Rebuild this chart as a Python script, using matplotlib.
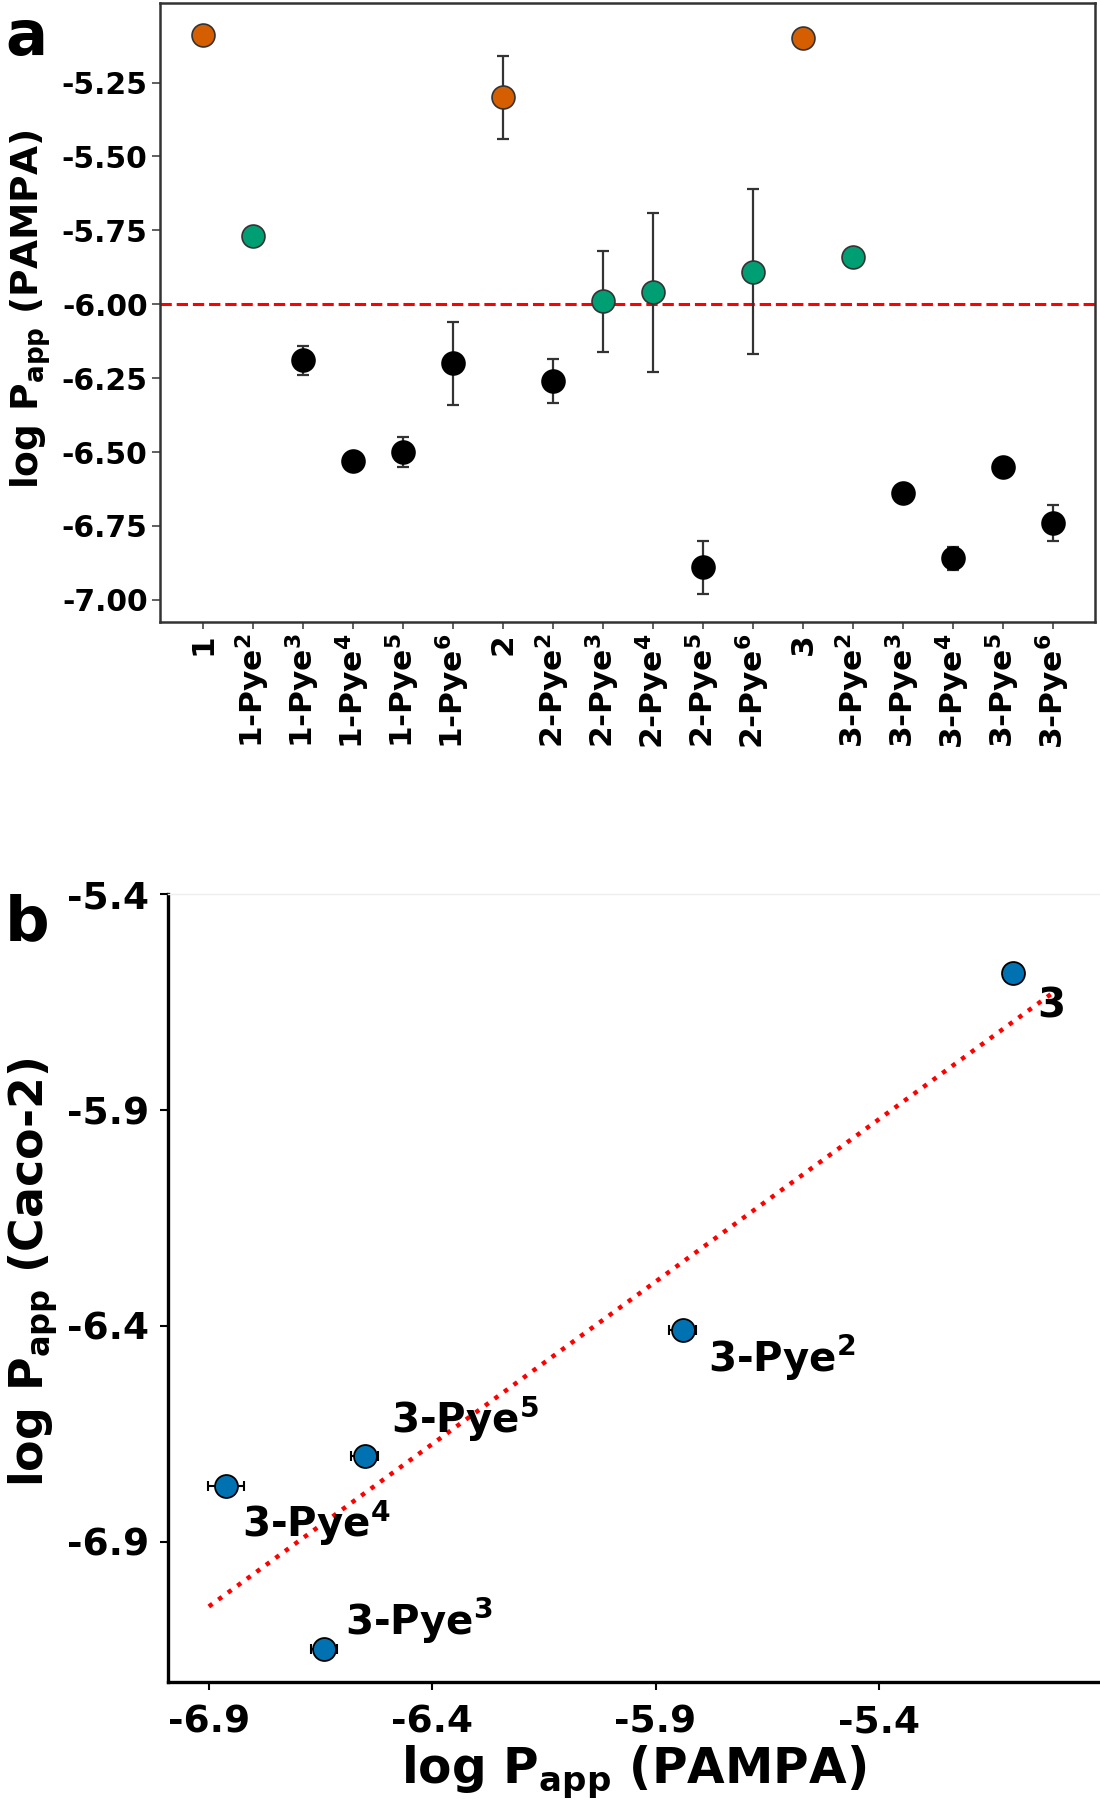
import numpy as np
import matplotlib
matplotlib.use("Agg")
import matplotlib.pyplot as plt
from matplotlib.ticker import FormatStrFormatter

# ---------------- data ----------------
compounds = ["1", "1-Pye2", "1-Pye3", "1-Pye4", "1-Pye5", "1-Pye6",
             "2", "2-Pye2", "2-Pye3", "2-Pye4", "2-Pye5", "2-Pye6",
             "3", "3-Pye2", "3-Pye3", "3-Pye4", "3-Pye5", "3-Pye6"]
pampa_mean = [-5.09, -5.77, -6.19, -6.53, -6.50, -6.20,
              -5.30, -6.26, -5.99, -5.96, -6.89, -5.89,
              -5.10, -5.84, -6.64, -6.86, -6.55, -6.74]
pampa_err = [0.0, 0.0, 0.05, 0.0, 0.05, 0.14,
             0.14, 0.075, 0.17, 0.27, 0.09, 0.28,
             0.0, 0.0, 0.0, 0.04, 0.0, 0.06]
groups = ["parent", "permeable", "low", "low", "low", "low",
          "parent", "low", "permeable", "permeable", "low", "permeable",
          "parent", "permeable", "low", "low", "low", "low"]
threshold = -6.0

caco_names = ["3", "3-Pye2", "3-Pye3", "3-Pye4", "3-Pye5"]
caco_pampa = [-5.10, -5.839, -6.642, -6.862, -6.551]
caco_pampa_err = [0.0, 0.03, 0.03, 0.04, 0.03]
caco_value = [-5.583, -6.409, -7.149, -6.771, -6.701]
fit_range = [-6.9, -5.0]

yticks_a = [-7.00, -6.75, -6.50, -6.25, -6.00, -5.75, -5.50, -5.25]
ticks_b = [-6.9, -6.4, -5.9, -5.4]

# ---------------- style ----------------
plt.rcParams["font.family"] = ["DejaVu Sans"]
plt.rcParams["font.weight"] = "bold"
plt.rcParams["mathtext.fontset"] = "dejavusans"
plt.rcParams["mathtext.default"] = "bf"
plt.rcParams["axes.unicode_minus"] = False

group_colors = {"parent": "#D55E00", "permeable": "#009E73", "low": "#000000"}
group_edges = {"parent": "#333333", "permeable": "#333333", "low": "#000000"}


def fmt_name(n):
    if "Pye" in n:
        base, num = n[:-1], n[-1]
        return base + r"$^{" + num + r"}$"
    return n


fig = plt.figure(figsize=(11, 18), dpi=100)
W, H = 1100.0, 1800.0

# ---------------- panel a ----------------
ax1 = fig.add_axes([160 / W, 1 - 622 / H, (1095 - 160) / W, (622 - 2.7) / H])
x = np.arange(len(compounds))
y = np.array(pampa_mean)
ax1.axhline(threshold, color="red", ls="--", lw=2.2, zorder=1)
ax1.errorbar(x, y, yerr=pampa_err, fmt="none", ecolor="#333333",
             elinewidth=1.6, capsize=4.5, capthick=1.6, zorder=2)
g_arr = np.array(groups)
for g, c in group_colors.items():
    m = g_arr == g
    ax1.plot(x[m], y[m], "o", ls="none", ms=16.5, mfc=c, mec=group_edges[g],
             mew=1.2, zorder=3)

ax1.set_xlim(-0.857, 17.84)
ax1.set_ylim(-7.075, -4.98)
ax1.set_xticks(x)
ax1.set_xticklabels([fmt_name(n) for n in compounds], rotation=90,
                    fontsize=22.5, fontweight="bold")
ax1.set_yticks(yticks_a)
ax1.yaxis.set_major_formatter(FormatStrFormatter("%.2f"))
ax1.tick_params(axis="y", labelsize=21.5, length=6, width=1.2, pad=3, color="#444444")
ax1.tick_params(axis="x", length=5, width=1.2, pad=3, color="#444444")
for s in ax1.spines.values():
    s.set_color("#333333")
    s.set_linewidth(1.8)
ax1.set_ylabel(r"log P$_{app}$ (PAMPA)", fontsize=27, fontweight="bold")
ax1.yaxis.set_label_coords(-0.1145, 0.505)

fig.text(5 / W, 1 - 55 / H, "a", fontsize=45, fontweight="bold",
         ha="left", va="baseline")

# ---------------- panel b ----------------
ax2 = fig.add_axes([167.5 / W, 1 - 1682.3 / H, (1100 - 167.5) / W, (1682.3 - 894.3) / H])
coef = np.polyfit(caco_pampa, caco_value, 1)
xs = np.array(fit_range)
ax2.plot(xs, np.polyval(coef, xs), ls=":", color="red", lw=3.2, zorder=1)
ax2.errorbar(caco_pampa, caco_value, xerr=caco_pampa_err, fmt="none",
             ecolor="black", elinewidth=1.5, capsize=3.5, capthick=1.5, zorder=2)
ax2.plot(caco_pampa, caco_value, "o", ls="none", ms=16.5, mfc="#0072B2",
         mec="black", mew=1.3, zorder=3)

label_offsets = {"3": (24, -44), "3-Pye2": (25, -42), "3-Pye3": (21, 14),
                 "3-Pye4": (16, -51), "3-Pye5": (26, 23)}
for n, px, py in zip(caco_names, caco_pampa, caco_value):
    ax2.annotate(fmt_name(n), (px, py), xytext=label_offsets[n],
                 textcoords="offset pixels", ha="left", va="baseline",
                 fontsize=29, fontweight="bold")

ax2.set_xlim(-6.9925, -4.905)
ax2.set_ylim(-7.226, -5.4)
ax2.set_xticks(ticks_b)
ax2.set_yticks(ticks_b)
ax2.xaxis.set_major_formatter(FormatStrFormatter("%.1f"))
ax2.yaxis.set_major_formatter(FormatStrFormatter("%.1f"))
ax2.tick_params(axis="both", labelsize=27, length=6, width=1.5)
ax2.tick_params(axis="x", pad=10)
ax2.tick_params(axis="y", pad=7)
ax2.spines["right"].set_visible(False)
ax2.spines["top"].set_color("#eeeeee")
ax2.spines["top"].set_linewidth(1.0)
ax2.spines["left"].set_linewidth(2.4)
ax2.spines["bottom"].set_linewidth(2.4)
ax2.set_xlabel(r"log P$_{app}$ (PAMPA)", fontsize=35, fontweight="bold")
ax2.set_ylabel(r"log P$_{app}$ (Caco-2)", fontsize=33, fontweight="bold")
ax2.yaxis.set_label_coords(-0.1154, 0.52)
ax2.xaxis.set_label_coords(0.5, -0.078)

fig.text(5 / W, 1 - 940 / H, "b", fontsize=45, fontweight="bold",
         ha="left", va="baseline")

fig.savefig("out.png", dpi=100)
